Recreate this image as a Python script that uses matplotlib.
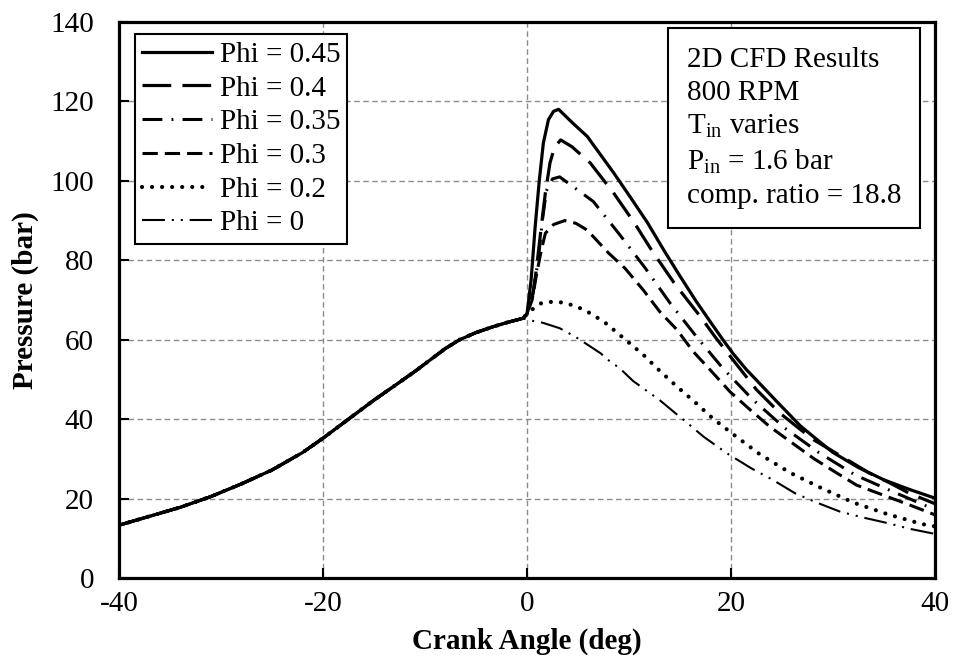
import numpy as np
import matplotlib
matplotlib.use('Agg')
import matplotlib.pyplot as plt

plt.rcParams['font.family'] = 'Liberation Serif'
plt.rcParams['mathtext.fontset'] = 'custom'
plt.rcParams['mathtext.rm'] = 'Liberation Serif'
plt.rcParams['axes.unicode_minus'] = False

# Compresion comun (antes de PMS)
ca_comp = [-40, -38, -36, -34, -31, -28, -25, -22, -20, -17.4, -15, -13.1, -11,
           -9.5, -8, -6.6, -5, -3.3, -2, -0.4]
p_comp = [13.3, 14.8, 16.3, 17.8, 20.5, 23.7, 27.2, 31.6, 35.2, 40.2, 44.8, 48.2, 52.0,
          54.9, 57.8, 60.0, 61.8, 63.3, 64.3, 65.4]

# Despues de PMS, una curva por cada Phi
ca_045 = [0, 0.4, 0.8, 1.2, 1.6, 2.1, 2.6, 3.1, 4.5, 5.9, 7, 8.5, 10.1, 11.8, 13.4, 15,
          16.6, 18, 19.2, 20.2, 21.5, 22.8, 24.5, 26.8, 28.5, 30, 32.5, 35, 37.5, 40]
p_045 = [66.5, 75, 88.5, 100, 109.5, 115.4, 117.5, 118, 114.5, 111.2, 107.3, 102, 96, 89.5,
         82.6, 76, 69.6, 64.4, 60, 56.5, 52.5, 49, 44.4, 38.3, 34.7, 31.6, 27.8, 24.7, 22.3, 20.1]

ca_04 = [0, 0.6, 0.95, 1.4, 1.8, 2.25, 2.7, 3.3, 4.4, 6.2, 8.5, 10.5, 12.2, 14.5, 17, 18.5,
         20.2, 22.5, 24.8, 26.5, 28.1, 30, 31.7, 33.5, 35.6, 37.5, 40]
p_04 = [66.5, 71.7, 78.4, 88.5, 97, 104.5, 108.5, 110.3, 108.6, 104.5, 96.9, 89.5, 82.6, 74,
        65.8, 60.5, 54.9, 47.4, 41.5, 38, 34.8, 31.9, 29.3, 26.5, 23.9, 21.3, 18.7]

ca_035 = [0, 0.6, 1.1, 1.5, 1.9, 2.5, 3.2, 4.8, 6.5, 9.1, 11.6, 14, 16.6, 19.2, 22.1, 25.3,
          28.6, 32.2, 36, 40]
p_035 = [66.5, 72, 80, 90, 97.5, 100.5, 101, 98, 94.8, 86.4, 78, 69.3, 60.8, 52.8, 45, 37.7,
         31.6, 25.9, 21.6, 17.2]

ca_03 = [0, 0.5, 0.95, 1.4, 1.8, 2.6, 3.7, 4.8, 5.9, 8, 9.6, 11.4, 13, 14.7, 16.3, 18.1, 19.9,
         21.9, 23.8, 26, 28.1, 30.2, 32.3, 35, 37.5, 40]
p_03 = [66.5, 70, 76.7, 82.5, 86.8, 89, 90, 89.3, 87.6, 81.8, 78, 72.5, 67.1, 62.5, 57, 52,
        46.9, 42.3, 38.1, 34, 30.1, 26.7, 23.4, 20.8, 18.4, 15.9]

ca_02 = [0, 0.7, 1.4, 2.6, 3.7, 4.9, 5.9, 6.8, 7.8, 9.6, 11.4, 13, 14.7, 16.5, 18.2, 20,
         22.8, 25.8, 28.9, 32, 35.3, 38.7, 40]
p_02 = [66.5, 68, 69.2, 69.6, 69.3, 68.3, 67.1, 65.7, 64, 60.1, 56.2, 52.2, 48.2, 44.2, 40.2,
        36.6, 31.2, 26.5, 22.6, 19, 16.1, 13.6, 13]

ca_00 = [0, 1.5, 3.2, 4.7, 6.2, 7.2, 8.1, 9.1, 10.4, 11.7, 13, 14.5, 15.5, 17.3, 19.6, 22,
         24.1, 26.3, 28.5, 30.7, 33, 35.4, 37.5, 40]
p_00 = [65, 64.3, 62.9, 60.8, 58.3, 56.6, 54.6, 52.8, 49.6, 47.2, 44.8, 41.6, 39.5, 35.6,
        31.4, 27.6, 24.7, 21.3, 18.9, 16.7, 15.2, 13.8, 12.4, 11.1]

labels = ['Phi = 0.45', 'Phi = 0.4', 'Phi = 0.35', 'Phi = 0.3', 'Phi = 0.2', 'Phi = 0']
curvas = [(ca_045, p_045), (ca_04, p_04), (ca_035, p_035), (ca_03, p_03),
          (ca_02, p_02), (ca_00, p_00)]
estilos = [
    dict(lw=2.3, ls='-'),
    dict(lw=2.3, ls=(0, (9, 3.5))),
    dict(lw=2.2, ls=(0, (6.5, 3, 0.6, 3))),
    dict(lw=2.2, ls=(0, (5, 2.3))),
    dict(lw=3.0, ls=(0, (0.01, 2.4)), dash_capstyle='round'),
    dict(lw=1.5, ls=(0, (11, 3.3, 1, 3.3, 1, 3.3))),
]

fs = 21

fig = plt.figure(figsize=(9.55, 6.66), dpi=100)
ax = fig.add_axes([0.1246, 0.1321, 0.8545, 0.8349])

# Graficar las curvas (de abajo hacia arriba para que la solida quede encima)
for (ca, p), lab, est in reversed(list(zip(curvas, labels, estilos))):
    x = np.concatenate([ca_comp, ca])
    y = np.concatenate([p_comp, p])
    ax.plot(x, y, color='black', label=lab, **est)

ax.set_xlim(-40, 40)
ax.set_ylim(0, 140)
ax.set_xticks(np.arange(-40, 41, 20))
ax.set_yticks(np.arange(0, 141, 20))
ax.grid(True, color='#8c8c8c', ls=(0, (4, 2.5)), lw=1.0)
ax.set_axisbelow(True)
ax.tick_params(direction='in', length=7, width=1.5, labelsize=fs)
ax.tick_params(axis='x', pad=9)
ax.tick_params(axis='y', pad=18)
for s in ax.spines.values():
    s.set_linewidth(2.3)

ax.set_xlabel('Crank Angle (deg)', fontsize=fs, fontweight='bold', labelpad=8)
ax.set_ylabel('Pressure (bar)', fontsize=fs, fontweight='bold', labelpad=8)

handles, labs = ax.get_legend_handles_labels()
leg = ax.legend(handles[::-1], labs[::-1], loc='upper left', bbox_to_anchor=(0.0196, 0.978),
                borderaxespad=0, fontsize=fs, fancybox=False, framealpha=1,
                edgecolor='black', handlelength=2.4, handletextpad=0.25,
                labelspacing=0.25, borderpad=0.25)
leg.get_frame().set_linewidth(1.5)

texto = ('2D CFD Results\n800 RPM\nT$_{\\rm in}$ varies\n'
         'P$_{\\rm in}$ = 1.6 bar\ncomp. ratio = 18.8')
ax.text(0.696, 0.955, texto, transform=ax.transAxes, fontsize=fs, va='top', ha='left',
        linespacing=1.33,
        bbox=dict(boxstyle='square,pad=0.65', fc='white', ec='black', lw=1.5))

fig.savefig('out.png', dpi=100)
